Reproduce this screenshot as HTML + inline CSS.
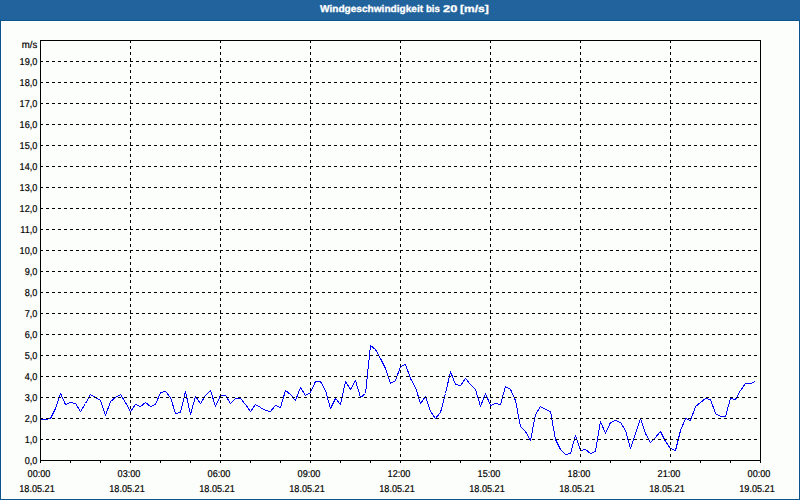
<!DOCTYPE html>
<html><head><meta charset="utf-8"><title>Windgeschwindigkeit bis 20 [m/s]</title>
<style>
html,body{margin:0;padding:0;}
body{width:800px;height:500px;overflow:hidden;background:#1f6398;font-family:"Liberation Sans", sans-serif;position:relative;}
#panel{position:absolute;left:0;top:20px;width:796px;height:476px;background:#fcfefb;border:1px solid #fff;outline:0;box-shadow:0 0 0 1px #0a548c;margin:1px;}
#title{z-index:2;position:absolute;left:0;top:0;width:800px;height:20px;color:#fff;font-weight:bold;font-size:9.8px;line-height:19px;white-space:pre;text-rendering:geometricPrecision;}
#title span{position:absolute;top:0;transform-origin:0 0;display:block;-webkit-text-stroke:0.3px #fff;}
.yl{position:absolute;left:0;width:37.3px;text-align:right;font-size:10px;line-height:12px;height:12px;color:#000;white-space:nowrap;transform:scaleX(0.91);transform-origin:100% 0;text-rendering:geometricPrecision;-webkit-text-stroke:0.2px #000;}
.xl{position:absolute;width:60px;text-align:center;font-size:10px;line-height:12px;height:12px;color:#000;white-space:nowrap;transform:scaleX(0.91);transform-origin:50% 0;text-rendering:geometricPrecision;-webkit-text-stroke:0.2px #000;}
svg{position:absolute;left:0;top:0;}
</style></head><body>
<div id="panel"></div>
<div id="title"><span style="left:320px;transform:scaleX(1.03)">Windgeschwindigkeit</span> <span style="left:426.2px;transform:scaleX(0.98)">bis</span> <span style="left:443px;transform:scaleX(1.31)">20</span> <span style="left:459.5px;transform:scaleX(1.225)">[m/s]</span></div>
<svg width="800" height="500" viewBox="0 0 800 500">
<defs><pattern id="dz" width="4" height="4" patternUnits="userSpaceOnUse"><rect x="1" y="1" width="1" height="1" fill="#2a64ba"/><rect x="3" y="3" width="1" height="1" fill="#2a64ba"/></pattern></defs>
<rect x="0" y="0" width="800" height="20" fill="url(#dz)" shape-rendering="crispEdges"/>
<g shape-rendering="crispEdges" stroke="#000" stroke-width="1" fill="none">
<polyline points="40.5,419.5 45.5,419.5 50.5,418.5 55.5,408.5 60.5,393.5 65.5,404.5 70.5,402.5 75.5,403.5 80.5,411.5 85.5,403.5 90.5,394.5 95.5,397.5 100.5,400.5 105.5,415.5 110.5,401.5 115.5,397.5 120.5,394.5 125.5,402.5 130.5,411.5 135.5,404.5 140.5,406.5 145.5,402.5 150.5,406.5 155.5,404.5 160.5,392.5 165.5,391.5 170.5,397.5 175.5,413.5 180.5,412.5 185.5,391.5 190.5,414.5 195.5,396.5 200.5,403.5 205.5,395.5 210.5,390.5 215.5,406.5 220.5,395.5 225.5,395.5 230.5,403.5 235.5,398.5 240.5,398.5 245.5,404.5 250.5,411.5 255.5,404.5 260.5,407.5 265.5,410.5 270.5,411.5 275.5,405.5 280.5,407.5 285.5,390.5 290.5,394.5 295.5,400.5 300.5,387.5 305.5,395.5 310.5,392.5 315.5,381.5 320.5,381.5 325.5,390.5 330.5,408.5 335.5,398.5 340.5,404.5 345.5,381.5 350.5,389.5 355.5,380.5 360.5,397.5 365.5,393.5 370.5,345.5 375.5,349.5 380.5,358.5 385.5,368.5 390.5,383.5 395.5,380.5 400.5,366.5 405.5,364.5 410.5,378.5 415.5,387.5 420.5,403.5 425.5,396.5 430.5,411.5 435.5,418.5 440.5,412.5 445.5,393.5 450.5,371.5 455.5,384.5 460.5,385.5 465.5,378.5 470.5,384.5 475.5,389.5 480.5,406.5 485.5,393.5 490.5,405.5 495.5,403.5 500.5,404.5 505.5,386.5 510.5,389.5 515.5,400.5 520.5,426.5 525.5,431.5 530.5,440.5 535.5,414.5 540.5,406.5 545.5,409.5 550.5,411.5 555.5,439.5 560.5,449.5 565.5,454.5 570.5,453.5 575.5,435.5 580.5,450.5 585.5,449.5 590.5,453.5 595.5,451.5 600.5,421.5 605.5,433.5 610.5,422.5 615.5,420.5 620.5,422.5 625.5,430.5 630.5,448.5 635.5,433.5 640.5,418.5 645.5,433.5 650.5,442.5 655.5,437.5 660.5,431.5 665.5,441.5 670.5,448.5 675.5,450.5 680.5,430.5 685.5,418.5 690.5,420.5 695.5,406.5 700.5,402.5 705.5,398.5 710.5,399.5 715.5,413.5 720.5,416.5 725.5,416.5 730.5,398.5 735.5,399.5 740.5,390.5 745.5,383.5 750.5,383.5 755.5,381.5" fill="none" stroke="#0000ff" stroke-width="1" stroke-linejoin="bevel" shape-rendering="crispEdges"/>
<line x1="40" y1="439.5" x2="760" y2="439.5" stroke-dasharray="3 3"/>
<line x1="40" y1="418.5" x2="760" y2="418.5" stroke-dasharray="3 3"/>
<line x1="40" y1="397.5" x2="760" y2="397.5" stroke-dasharray="3 3"/>
<line x1="40" y1="376.5" x2="760" y2="376.5" stroke-dasharray="3 3"/>
<line x1="40" y1="355.5" x2="760" y2="355.5" stroke-dasharray="3 3"/>
<line x1="40" y1="334.5" x2="760" y2="334.5" stroke-dasharray="3 3"/>
<line x1="40" y1="313.5" x2="760" y2="313.5" stroke-dasharray="3 3"/>
<line x1="40" y1="292.5" x2="760" y2="292.5" stroke-dasharray="3 3"/>
<line x1="40" y1="271.5" x2="760" y2="271.5" stroke-dasharray="3 3"/>
<line x1="40" y1="250.5" x2="760" y2="250.5" stroke-dasharray="3 3"/>
<line x1="40" y1="229.5" x2="760" y2="229.5" stroke-dasharray="3 3"/>
<line x1="40" y1="208.5" x2="760" y2="208.5" stroke-dasharray="3 3"/>
<line x1="40" y1="187.5" x2="760" y2="187.5" stroke-dasharray="3 3"/>
<line x1="40" y1="166.5" x2="760" y2="166.5" stroke-dasharray="3 3"/>
<line x1="40" y1="145.5" x2="760" y2="145.5" stroke-dasharray="3 3"/>
<line x1="40" y1="124.5" x2="760" y2="124.5" stroke-dasharray="3 3"/>
<line x1="40" y1="103.5" x2="760" y2="103.5" stroke-dasharray="3 3"/>
<line x1="40" y1="82.5" x2="760" y2="82.5" stroke-dasharray="3 3"/>
<line x1="40" y1="61.5" x2="760" y2="61.5" stroke-dasharray="3 3"/>
<line x1="130.5" y1="40" x2="130.5" y2="460" stroke-dasharray="3 3"/>
<line x1="220.5" y1="40" x2="220.5" y2="460" stroke-dasharray="3 3"/>
<line x1="310.5" y1="40" x2="310.5" y2="460" stroke-dasharray="3 3"/>
<line x1="400.5" y1="40" x2="400.5" y2="460" stroke-dasharray="3 3"/>
<line x1="490.5" y1="40" x2="490.5" y2="460" stroke-dasharray="3 3"/>
<line x1="580.5" y1="40" x2="580.5" y2="460" stroke-dasharray="3 3"/>
<line x1="670.5" y1="40" x2="670.5" y2="460" stroke-dasharray="3 3"/>
<rect x="40.5" y="40.5" width="720" height="420"/>
<line x1="40.5" y1="461" x2="40.5" y2="463"/>
<line x1="70.5" y1="461" x2="70.5" y2="463"/>
<line x1="100.5" y1="461" x2="100.5" y2="463"/>
<line x1="130.5" y1="461" x2="130.5" y2="463"/>
<line x1="160.5" y1="461" x2="160.5" y2="463"/>
<line x1="190.5" y1="461" x2="190.5" y2="463"/>
<line x1="220.5" y1="461" x2="220.5" y2="463"/>
<line x1="250.5" y1="461" x2="250.5" y2="463"/>
<line x1="280.5" y1="461" x2="280.5" y2="463"/>
<line x1="310.5" y1="461" x2="310.5" y2="463"/>
<line x1="340.5" y1="461" x2="340.5" y2="463"/>
<line x1="370.5" y1="461" x2="370.5" y2="463"/>
<line x1="400.5" y1="461" x2="400.5" y2="463"/>
<line x1="430.5" y1="461" x2="430.5" y2="463"/>
<line x1="460.5" y1="461" x2="460.5" y2="463"/>
<line x1="490.5" y1="461" x2="490.5" y2="463"/>
<line x1="520.5" y1="461" x2="520.5" y2="463"/>
<line x1="550.5" y1="461" x2="550.5" y2="463"/>
<line x1="580.5" y1="461" x2="580.5" y2="463"/>
<line x1="610.5" y1="461" x2="610.5" y2="463"/>
<line x1="640.5" y1="461" x2="640.5" y2="463"/>
<line x1="670.5" y1="461" x2="670.5" y2="463"/>
<line x1="700.5" y1="461" x2="700.5" y2="463"/>
<line x1="730.5" y1="461" x2="730.5" y2="463"/>
<line x1="760.5" y1="461" x2="760.5" y2="463"/>
</g>
</svg>
<div class="yl" style="top:39.5px;transform:scaleX(0.96);left:-0.3px">m/s</div>
<div class="yl" style="top:455.5px">0,0</div>
<div class="yl" style="top:434.5px">1,0</div>
<div class="yl" style="top:413.5px">2,0</div>
<div class="yl" style="top:392.5px">3,0</div>
<div class="yl" style="top:371.5px">4,0</div>
<div class="yl" style="top:350.5px">5,0</div>
<div class="yl" style="top:329.5px">6,0</div>
<div class="yl" style="top:308.5px">7,0</div>
<div class="yl" style="top:287.5px">8,0</div>
<div class="yl" style="top:266.5px">9,0</div>
<div class="yl" style="top:245.5px">10,0</div>
<div class="yl" style="top:224.5px">11,0</div>
<div class="yl" style="top:203.5px">12,0</div>
<div class="yl" style="top:182.5px">13,0</div>
<div class="yl" style="top:161.5px">14,0</div>
<div class="yl" style="top:140.5px">15,0</div>
<div class="yl" style="top:119.5px">16,0</div>
<div class="yl" style="top:98.5px">17,0</div>
<div class="yl" style="top:77.5px">18,0</div>
<div class="yl" style="top:56.5px">19,0</div>
<div class="xl" style="left:8.5px;top:469px">00:00</div>
<div class="xl" style="left:7px;top:484px">18.05.21</div>
<div class="xl" style="left:98.5px;top:469px">03:00</div>
<div class="xl" style="left:97px;top:484px">18.05.21</div>
<div class="xl" style="left:188.5px;top:469px">06:00</div>
<div class="xl" style="left:187px;top:484px">18.05.21</div>
<div class="xl" style="left:278.5px;top:469px">09:00</div>
<div class="xl" style="left:277px;top:484px">18.05.21</div>
<div class="xl" style="left:368.5px;top:469px">12:00</div>
<div class="xl" style="left:367px;top:484px">18.05.21</div>
<div class="xl" style="left:458.5px;top:469px">15:00</div>
<div class="xl" style="left:457px;top:484px">18.05.21</div>
<div class="xl" style="left:548.5px;top:469px">18:00</div>
<div class="xl" style="left:547px;top:484px">18.05.21</div>
<div class="xl" style="left:638.5px;top:469px">21:00</div>
<div class="xl" style="left:637px;top:484px">18.05.21</div>
<div class="xl" style="left:728.5px;top:469px">00:00</div>
<div class="xl" style="left:727px;top:484px">19.05.21</div>
</body></html>
